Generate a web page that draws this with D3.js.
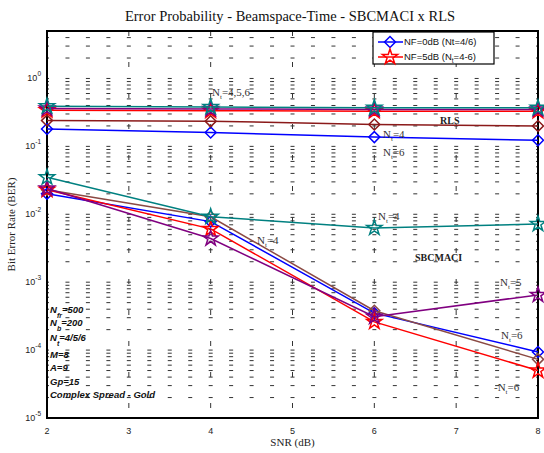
<!DOCTYPE html>
<html><head><meta charset="utf-8">
<script src="https://cdn.jsdelivr.net/npm/d3@7"></script>
<style>body{margin:0;background:#fff;}svg{display:block;}</style>
</head><body>
<svg id="c" width="544" height="453"></svg>
<script>
const snr = [2, 4, 6, 8];
const xTicks = [2, 3, 4, 5, 6, 7, 8];
const yTickExps = [0, -1, -2, -3, -4, -5];
// RLS
const rlsBlueNt4 = [0.18, 0.16, 0.137, 0.123];
const rlsBrownNt6 = [0.24, 0.235, 0.21, 0.20];
const rlsRedNt4 = [0.34, 0.335, 0.33, 0.33];
const rlsPurpleNt5 = [0.36, 0.355, 0.35, 0.35];
const rlsTealNt6 = [0.39, 0.38, 0.37, 0.37];
// SBCMACI
const sbBlueNt6 = [0.020, 0.0078, 0.00035, 0.000094];
const sbBrownNt6 = [0.023, 0.0092, 0.00038, 0.000073];
const sbRedNt6 = [0.023, 0.0061, 0.00026, 0.000050];
const sbPurpleNt5 = [0.024, 0.0044, 0.00031, 0.00065];
const sbTealNt4 = [0.035, 0.0092, 0.0063, 0.0072];

const legendLabels = ["NF=0dB (Nt=4/6)", "NF=5dB (N", "=4-6)"];

const svg = d3.select("#c");
const L = 47, R = 538, T = 31, B = 418;
const x = d3.scaleLinear().domain([2, 8]).range([L, R]);
const y = d3.scaleLog().domain([1e-5, 5]).range([B, T]);

// grid
const g = svg.append("g");
const minor = [];
for (let e = -5; e <= 0; e++) for (let m = 1; m <= 9; m++) { const v = m * Math.pow(10, e); if (v <= 5 && v > 1e-5) minor.push(v); }
g.selectAll("line.h").data(minor).join("line")
  .attr("x1", L).attr("x2", R).attr("y1", d => y(d)).attr("y2", d => y(d))
  .attr("stroke", "#333").attr("stroke-width", 1)
  .attr("stroke-dasharray", "4 16.46").attr("stroke-dashoffset", 2);
g.selectAll("line.v").data(xTicks.slice(1, -1)).join("line")
  .attr("x1", d => x(d)).attr("x2", d => x(d)).attr("y1", T).attr("y2", B)
  .attr("stroke", "#333").attr("stroke-width", 1)
  .attr("stroke-dasharray", "5 26");

// frame
svg.append("rect").attr("x", L).attr("y", T).attr("width", R - L).attr("height", B - T)
  .attr("fill", "none").attr("stroke", "#000").attr("stroke-width", 2);

// axes labels
svg.selectAll("text.xt").data(xTicks).join("text")
  .attr("x", d => x(d)).attr("y", B + 16).attr("text-anchor", "middle")
  .attr("font-family", "Liberation Sans, Arial").attr("font-size", 9).attr("fill", "#222").text(d => d);
const yt = svg.selectAll("text.yt").data(yTickExps).join("text")
  .attr("x", L - 6).attr("y", d => y(Math.pow(10, d)) + 3).attr("text-anchor", "end")
  .attr("font-family", "Liberation Sans, Arial").attr("font-size", 9).attr("fill", "#222");
yt.append("tspan").text("10");
yt.append("tspan").attr("dy", -5).attr("font-size", 6.5).text(d => d);

svg.append("text").attr("x", (L + R) / 2).attr("y", 446).attr("text-anchor", "middle")
  .attr("font-family", "Liberation Serif, Times New Roman").attr("font-size", 11).attr("fill", "#222").text("SNR (dB)");
svg.append("text").attr("transform", `translate(15,${(T + B) / 2}) rotate(-90)`).attr("text-anchor", "middle")
  .attr("font-family", "Liberation Serif, Times New Roman").attr("font-size", 11).attr("fill", "#222").text("Bit Error Rate (BER)");
svg.append("text").attr("x", 290).attr("y", 21).attr("text-anchor", "middle")
  .attr("font-family", "Liberation Serif, Times New Roman").attr("font-size", 14.5).attr("fill", "#111")
  .text("Error Probability - Beamspace-Time - SBCMACI x RLS");

// series
const diamond = d3.symbol().type(d3.symbolSquare).size(60);
const star = d3.symbol().type(d3.symbolStar).size(72);
const series = [
  { v: rlsBlueNt4, c: "#0000ff", m: "d" },
  { v: rlsBrownNt6, c: "#8b1a1a", m: "d" },
  { v: sbBlueNt6, c: "#0000ff", m: "d" },
  { v: sbBrownNt6, c: "#8b4a44", m: "d" },
  { v: sbRedNt6, c: "#ff0000", m: "s" },
  { v: sbPurpleNt5, c: "#800080", m: "s" },
  { v: sbTealNt4, c: "#008080", m: "s" },
  { v: rlsRedNt4, c: "#ff0000", m: "s" },
  { v: rlsPurpleNt5, c: "#800080", m: "s" },
  { v: rlsTealNt6, c: "#008080", m: "s" }
];
const line = d3.line().x((d, i) => x(snr[i])).y(d => y(d));
series.forEach(s => {
  svg.append("path").attr("d", line(s.v)).attr("fill", "none").attr("stroke", s.c).attr("stroke-width", 1.5);
  svg.selectAll(null).data(s.v).join("path")
    .attr("d", s.m === "d" ? diamond() : star())
    .attr("transform", (d, i) => `translate(${x(snr[i])},${y(d)})` + (s.m === "d" ? " rotate(45)" : ""))
    .attr("fill", "none").attr("stroke", s.c).attr("stroke-width", 1.5);
});

// annotations
function ann(px, py, sub, rest, opts = {}) {
  const t = svg.append("text").attr("x", px).attr("y", py)
    .attr("font-family", "Liberation Serif, Times New Roman").attr("font-size", 11).attr("fill", "#333");
  t.append("tspan").text((opts.pre || "") + "N");
  t.append("tspan").attr("dy", 3).attr("font-size", 7).text(sub);
  t.append("tspan").attr("dy", -3).text(rest);
}
ann(212, 96, "t", "=4,5,6");
ann(383, 138, "t", "=4");
ann(383, 156, "t", "=6");
ann(378, 220, "t", "=4");
ann(257, 244, "t", "=4");
ann(500, 286, "t", "=5");
ann(501, 339, "t", "=6");
ann(494, 391, "t", "=6", { pre: "-" });
svg.append("text").attr("x", 440).attr("y", 124).attr("font-family", "Liberation Serif, Times New Roman")
  .attr("font-size", 10).attr("font-weight", "bold").attr("fill", "#222").text("RLS");
svg.append("text").attr("x", 415).attr("y", 261).attr("font-family", "Liberation Serif, Times New Roman")
  .attr("font-size", 10).attr("font-weight", "bold").attr("fill", "#222").text("SBCMACI");

// left info block
const info = [["N", "fr", "=500", 313], ["N", "b", "=200", 326], ["N", "t", "=4/5/6", 341], ["M=8", "", "", 358], ["A=9", "", "", 371], ["Gp=15", "", "", 385], ["Complex Spread - Gold", "", "", 398]];
info.forEach(r => {
  const t = svg.append("text").attr("x", 50).attr("y", r[3])
    .attr("font-family", "Liberation Sans, Arial").attr("font-size", 9.5).attr("font-weight", "bold")
    .attr("font-style", "italic").attr("fill", "#111");
  t.append("tspan").text(r[0]);
  if (r[1]) {
    t.append("tspan").attr("dy", 5).attr("font-size", 7).text(r[1]);
    t.append("tspan").attr("dy", -5).text(r[2]);
  }
});

// legend
const lg = svg.append("g");
lg.append("rect").attr("x", 373).attr("y", 32).attr("width", 121).attr("height", 32)
  .attr("fill", "#fff").attr("stroke", "#000").attr("stroke-width", 1.2);
lg.append("line").attr("x1", 378).attr("x2", 403).attr("y1", 42).attr("y2", 42).attr("stroke", "#0000ff").attr("stroke-width", 1.5);
lg.append("path").attr("d", diamond()).attr("transform", "translate(390,42) rotate(45)").attr("fill", "none").attr("stroke", "#0000ff").attr("stroke-width", 1.5);
lg.append("line").attr("x1", 378).attr("x2", 403).attr("y1", 57).attr("y2", 57).attr("stroke", "#ff0000").attr("stroke-width", 1.5);
lg.append("path").attr("d", star()).attr("transform", "translate(390,57)").attr("fill", "none").attr("stroke", "#ff0000").attr("stroke-width", 1.5);
lg.append("text").attr("x", 404).attr("y", 45).attr("font-family", "Liberation Sans, Arial").attr("font-size", 9.5).attr("fill", "#111").text(legendLabels[0]);
const l2 = lg.append("text").attr("x", 404).attr("y", 60).attr("font-family", "Liberation Sans, Arial").attr("font-size", 9.5).attr("fill", "#111");
l2.append("tspan").text(legendLabels[1]);
l2.append("tspan").attr("dy", 3).attr("font-size", 6.5).text("t");
l2.append("tspan").attr("dy", -3).text(legendLabels[2]);
</script>
</body></html>
